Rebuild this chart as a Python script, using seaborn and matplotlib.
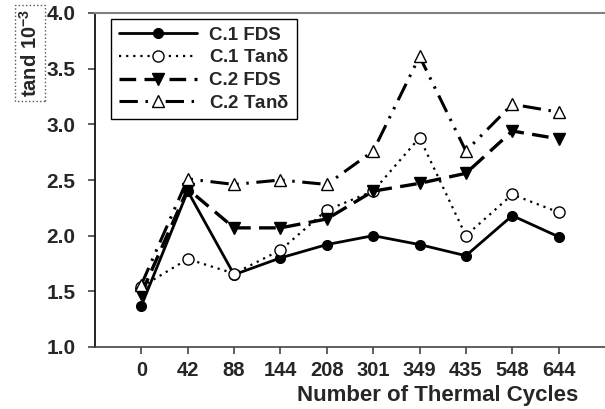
import numpy as np
import pandas as pd
import matplotlib
matplotlib.use("Agg")
import matplotlib.pyplot as plt
import seaborn as sns

cycles = ["0", "42", "88", "144", "208", "301", "349", "435", "548", "644"]
c1_fds = [1.37, 2.40, 1.65, 1.80, 1.92, 2.00, 1.92, 1.82, 2.18, 1.99]
c1_tan = [1.54, 1.79, 1.66, 1.87, 2.23, 2.40, 2.88, 2.00, 2.37, 2.21]
c2_fds = [1.48, 2.42, 2.07, 2.07, 2.15, 2.40, 2.47, 2.56, 2.94, 2.87]
c2_tan = [1.56, 2.51, 2.46, 2.50, 2.46, 2.76, 3.61, 2.76, 3.18, 3.11]
series_names = ["C.1 FDS", "C.1 Tan$\\mathbf{\\delta}$", "C.2 FDS", "C.2 Tan$\\mathbf{\\delta}$"]

sns.set_theme(style="white")
plt.rcParams["font.family"] = ["Liberation Sans", "DejaVu Sans"]
plt.rcParams["font.weight"] = "bold"
plt.rcParams["mathtext.fontset"] = "custom"
plt.rcParams["mathtext.bf"] = "Liberation Sans:bold"
plt.rcParams["mathtext.rm"] = "Liberation Sans:bold"

fig = plt.figure(figsize=(6.05, 4.09), dpi=100)
ax = fig.add_axes([95 / 605, 1 - 347 / 409, 1 - 95 / 605, (347 - 13) / 409])

pos = np.arange(len(cycles))
styles = [
    dict(ls="-", marker="o", mfc="black", mec="black", ms=7, lw=2.0),
    dict(ls=(0, (1, 2.2)), marker="o", mfc="white", mec="black", ms=8, lw=1.6),
    dict(ls=(0, (5, 2.5)), marker="v", mfc="black", mec="black", ms=9, lw=2.4),
    dict(ls=(0, (6, 2.5, 0.8, 2.5, 0.8, 2.5)), marker="^", mfc="white", mec="black", ms=9, lw=2.2),
]
for vals, name, st in zip([c1_fds, c1_tan, c2_fds, c2_tan], series_names, styles):
    df = pd.DataFrame({"pos": pos, "val": vals})
    sns.lineplot(data=df, x="pos", y="val", ax=ax, color="black", label=name,
                 linestyle=st["ls"], marker=st["marker"], markerfacecolor=st["mfc"],
                 markeredgecolor=st["mec"], markersize=st["ms"], linewidth=st["lw"],
                 markeredgewidth=1.0)

ax.set_xlim(-1, 10)
ax.set_ylim(1.0, 4.0)
yt = [1.0, 1.5, 2.0, 2.5, 3.0, 3.5, 4.0]
ax.set_yticks(yt)
ax.set_yticklabels([f"{v:.1f}" for v in yt], fontsize=15, fontweight="bold")
ax.set_xticks(pos)
ax.set_xticklabels(cycles, fontsize=14.5, fontweight="bold")
ax.tick_params(axis="both", direction="out", length=5, width=1.2, color="#444444",
               bottom=True, left=True)
ax.tick_params(axis="x", pad=5)
ax.tick_params(axis="y", pad=9)

ax.spines["right"].set_visible(False)
ax.spines["left"].set_color("black")
ax.spines["left"].set_linewidth(1.2)
ax.spines["bottom"].set_color("#444444")
ax.spines["bottom"].set_linewidth(1.2)
ax.spines["top"].set_color("#808080")
ax.spines["top"].set_linewidth(1.5)

ax.set_xlabel("")
ax.set_ylabel("")
fig.text(578 / 605, 1 - 396 / 409, "Number of Thermal Cycles", ha="right", va="center",
         fontsize=16, fontweight="bold")
fig.text(30 / 605, 1 - 53 / 409, "tand 10$^{\\mathbf{-3}}$", rotation=90, ha="center",
         va="center", fontsize=14.5, fontweight="bold",
         bbox=dict(boxstyle="square,pad=0.2", fc="white", ec="#555555", ls=":", lw=1.0))

leg = ax.legend(loc="upper left", bbox_to_anchor=(16 / 510, 1 - 6 / 334), frameon=True,
                fancybox=False, edgecolor="black", framealpha=1, fontsize=13.5,
                handlelength=4.2, borderpad=0.4, labelspacing=0.3, handletextpad=0.65,
                borderaxespad=0)
leg.get_frame().set_linewidth(1.0)
for t in leg.get_texts():
    t.set_fontweight("bold")

fig.savefig("out.png", dpi=100)
